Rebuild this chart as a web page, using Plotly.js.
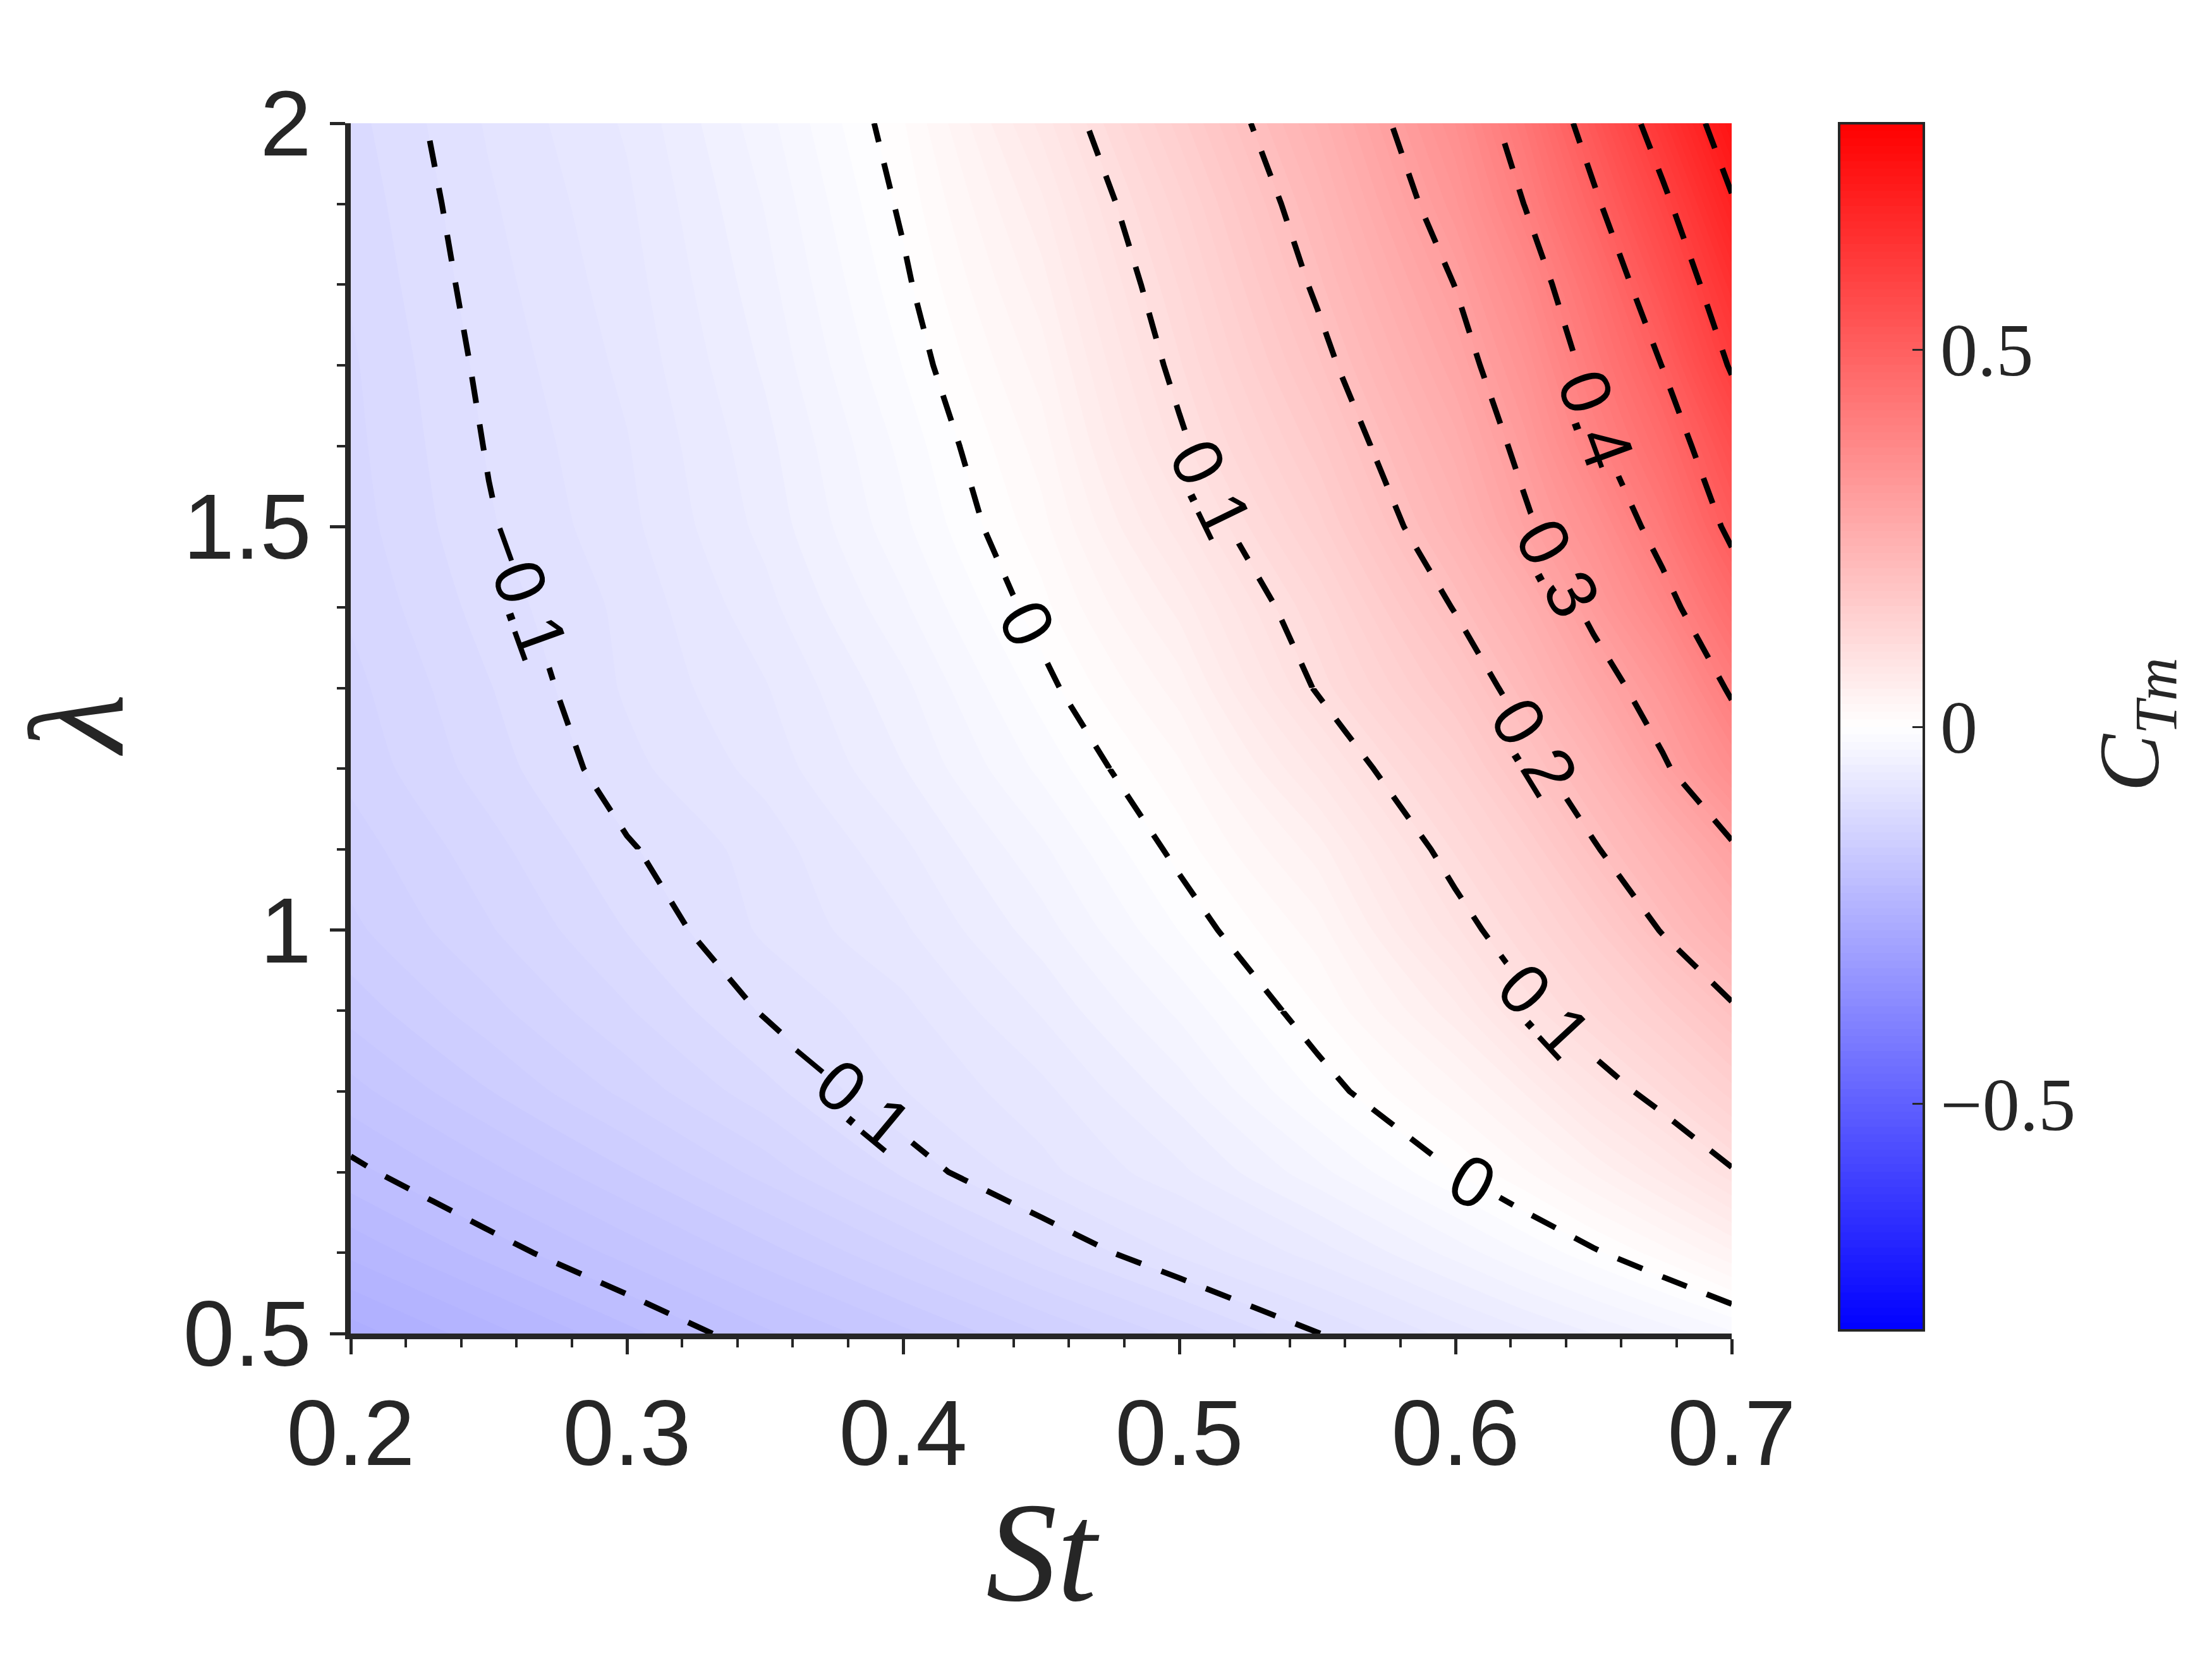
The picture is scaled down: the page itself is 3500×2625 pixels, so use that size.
<!DOCTYPE html>
<html><head><meta charset="utf-8">
<script src="https://cdn.plot.ly/plotly-3.0.1.min.js"></script>
<style>html,body{margin:0;padding:0;background:#fff}</style>
</head><body>
<div id="chart" style="width:3500px;height:2625px"></div>
<script>
// Strouhal number (x) and lambda (y) grid
const St = [0.2, 0.25, 0.3, 0.35, 0.4, 0.45, 0.5, 0.55, 0.6, 0.625, 0.65, 0.675, 0.7];
const lambda = [0.5, 0.6, 0.7, 0.8, 0.9, 1.0, 1.1, 1.2, 1.3, 1.4, 1.5, 1.6, 1.7, 1.8, 1.9, 2.0];
// C_Tm values, one row per lambda (St order as above)
const CTm = [
  [-0.255, -0.234, -0.213, -0.192, -0.1727, -0.1505, -0.1265, -0.1005, -0.0753, -0.0626, -0.05, -0.0365, -0.022],
  [-0.2275, -0.2065, -0.1863, -0.1645, -0.1405, -0.113, -0.088, -0.0653, -0.0361, -0.0197, -0.0027, 0.0155, 0.038],
  [-0.2039, -0.1833, -0.1608, -0.136, -0.1081, -0.0835, -0.0627, -0.0337, 0.0002, 0.0187, 0.0409, 0.0667, 0.097],
  [-0.184, -0.1605, -0.137, -0.1135, -0.0904, -0.0732, -0.0452, -0.0082, 0.0269, 0.0509, 0.0832, 0.112, 0.145],
  [-0.1661, -0.1436, -0.1211, -0.0986, -0.0828, -0.059, -0.0276, 0.0094, 0.0566, 0.0924, 0.1222, 0.1547, 0.194],
  [-0.1526, -0.1311, -0.1096, -0.0881, -0.0717, -0.0449, -0.0097, 0.0251, 0.0878, 0.1192, 0.156, 0.2026, 0.246],
  [-0.1452, -0.1237, -0.1014, -0.0855, -0.0624, -0.0323, 0.0043, 0.0448, 0.1119, 0.1479, 0.1959, 0.2404, 0.293],
  [-0.1371, -0.1151, -0.0931, -0.0765, -0.0505, -0.0175, 0.0178, 0.0729, 0.1396, 0.185, 0.2307, 0.2928, 0.3547],
  [-0.1332, -0.1107, -0.0885, -0.0709, -0.0428, -0.0054, 0.0349, 0.1024, 0.1713, 0.2172, 0.2736, 0.3288, 0.4077],
  [-0.1285, -0.1055, -0.0872, -0.0635, -0.032, 0.0063, 0.0534, 0.12, 0.2025, 0.2504, 0.3133, 0.3787, 0.4598],
  [-0.1248, -0.1013, -0.083, -0.0569, -0.0225, 0.0163, 0.0749, 0.1446, 0.2331, 0.2909, 0.3489, 0.4228, 0.5137],
  [-0.123, -0.099, -0.0807, -0.0533, -0.0171, 0.0247, 0.0945, 0.1655, 0.2549, 0.3141, 0.388, 0.4618, 0.5528],
  [-0.1216, -0.0966, -0.0776, -0.0484, -0.0096, 0.0345, 0.1083, 0.1868, 0.2785, 0.339, 0.4187, 0.5015, 0.6063],
  [-0.119, -0.094, -0.0747, -0.0439, -0.0032, 0.0455, 0.1209, 0.2057, 0.3011, 0.367, 0.4492, 0.5435, 0.6474],
  [-0.1165, -0.0915, -0.072, -0.0394, 0.0028, 0.0575, 0.1357, 0.2228, 0.3276, 0.4009, 0.4896, 0.586, 0.6937],
  [-0.1137, -0.0887, -0.0686, -0.0339, 0.009, 0.0733, 0.1549, 0.242, 0.3504, 0.4304, 0.5291, 0.6333, 0.741]
];
// dashed, labelled contour levels
const contourLevels = [-0.2, -0.1, 0, 0.1, 0.2, 0.3, 0.4, 0.5, 0.6, 0.7];
// lambda values where a contour is cut into separately labelled spans
const spanBreaks = {'-0.1': [1.1], '0': [0.9, 1.2], '0.1': [1.3], '0.2': [1.6]};
const xTicks = [0.2, 0.3, 0.4, 0.5, 0.6, 0.7];
const yTicks = [0.5, 1, 1.5, 2];
const cbTicks = [-0.5, 0, 0.5];

const ink = '#262626';
const cscale = [[0, 'rgb(0,0,255)'], [0.5, 'rgb(255,255,255)'], [1, 'rgb(255,0,0)']];

const fill = {
  type: 'contour', x: St, y: lambda, z: CTm,
  colorscale: cscale, zauto: false, zmin: -0.8, zmax: 0.8,
  autocontour: false,
  contours: {start: -0.8, end: 0.8, size: 0.01, coloring: 'fill', showlines: false},
  line: {width: 0, smoothing: 0.6},
  hoverinfo: 'skip',
  colorbar: {
    x: 1.0778, xanchor: 'left', xref: 'paper', xpad: 0,
    y: 1, yanchor: 'top', ypad: 0,
    len: 1910, lenmode: 'pixels',
    thickness: 134, thicknessmode: 'pixels',
    outlinewidth: 4, outlinecolor: ink,
    tickmode: 'array', tickvals: cbTicks,
    ticks: 'inside', ticklen: 20, tickwidth: 3, tickcolor: ink,
    tickfont: {family: 'Liberation Serif', size: 118, color: ink}
  }
};

function lineTrace(lv, i0, i1) {
  return {
    type: 'contour', x: St, y: lambda.slice(i0, i1 + 1), z: CTm.slice(i0, i1 + 1),
    autocontour: false, showscale: false,
    contours: {start: lv, end: lv, size: 0.1,
               coloring: 'none', showlabels: true, labelformat: '.1~f',
               labelfont: {family: 'Liberation Sans', size: 112, color: '#000'}},
    line: {color: '#000', width: 9, dash: '42px,34px', smoothing: 0},
    hoverinfo: 'skip'
  };
}

const lineTraces = [];
contourLevels.forEach(function (lv) {
  const cuts = [0].concat((spanBreaks[String(lv)] || []).map(function (b) { return lambda.indexOf(b); }),
                          [lambda.length - 1]);
  for (let k = 0; k < cuts.length - 1; k++) {
    lineTraces.push(lineTrace(lv, cuts[k], cuts[k + 1]));
  }
});

const axisCommon = {
  ticks: 'outside', ticklen: 24, tickwidth: 5, tickcolor: ink,
  showline: true, linewidth: 9, linecolor: ink, mirror: false,
  showgrid: false, zeroline: false,
  tickfont: {family: 'Liberation Sans', size: 146, color: ink}
};

const layout = {
  width: 3500, height: 2625,
  margin: {l: 555, r: 760, t: 195, b: 515, pad: 0},
  paper_bgcolor: '#fff', plot_bgcolor: '#fff',
  showlegend: false,
  xaxis: Object.assign({}, axisCommon, {
    range: [0.2, 0.7], tickmode: 'array', tickvals: xTicks,
    minor: {tick0: 0.2, dtick: 0.02, ticks: 'outside', ticklen: 13, tickwidth: 4, tickcolor: ink, showgrid: false},
    title: {text: '<i>St</i>', font: {family: 'Liberation Serif', size: 225, color: ink}, standoff: 30}
  }),
  yaxis: Object.assign({}, axisCommon, {
    range: [0.5, 2], tickmode: 'array', tickvals: yTicks,
    minor: {tick0: 0.5, dtick: 0.1, ticks: 'outside', ticklen: 13, tickwidth: 4, tickcolor: ink, showgrid: false}
  }),
  annotations: [
    {text: '<i>λ</i>', xref: 'paper', yref: 'paper', x: -0.1982, y: 0.503,
     xanchor: 'center', yanchor: 'middle', textangle: -90, showarrow: false,
     font: {family: 'Liberation Serif', size: 215, color: ink}},
    {text: '<i>C</i><sub><i>Tm</i></sub>', xref: 'paper', yref: 'paper', x: 1.2929, y: 0.503,
     xanchor: 'center', yanchor: 'middle', textangle: -90, showarrow: false,
     font: {family: 'Liberation Serif', size: 136, color: ink}}
  ]
};

Plotly.newPlot('chart', [fill].concat(lineTraces), layout, {staticPlot: true});
</script>
</body></html>
